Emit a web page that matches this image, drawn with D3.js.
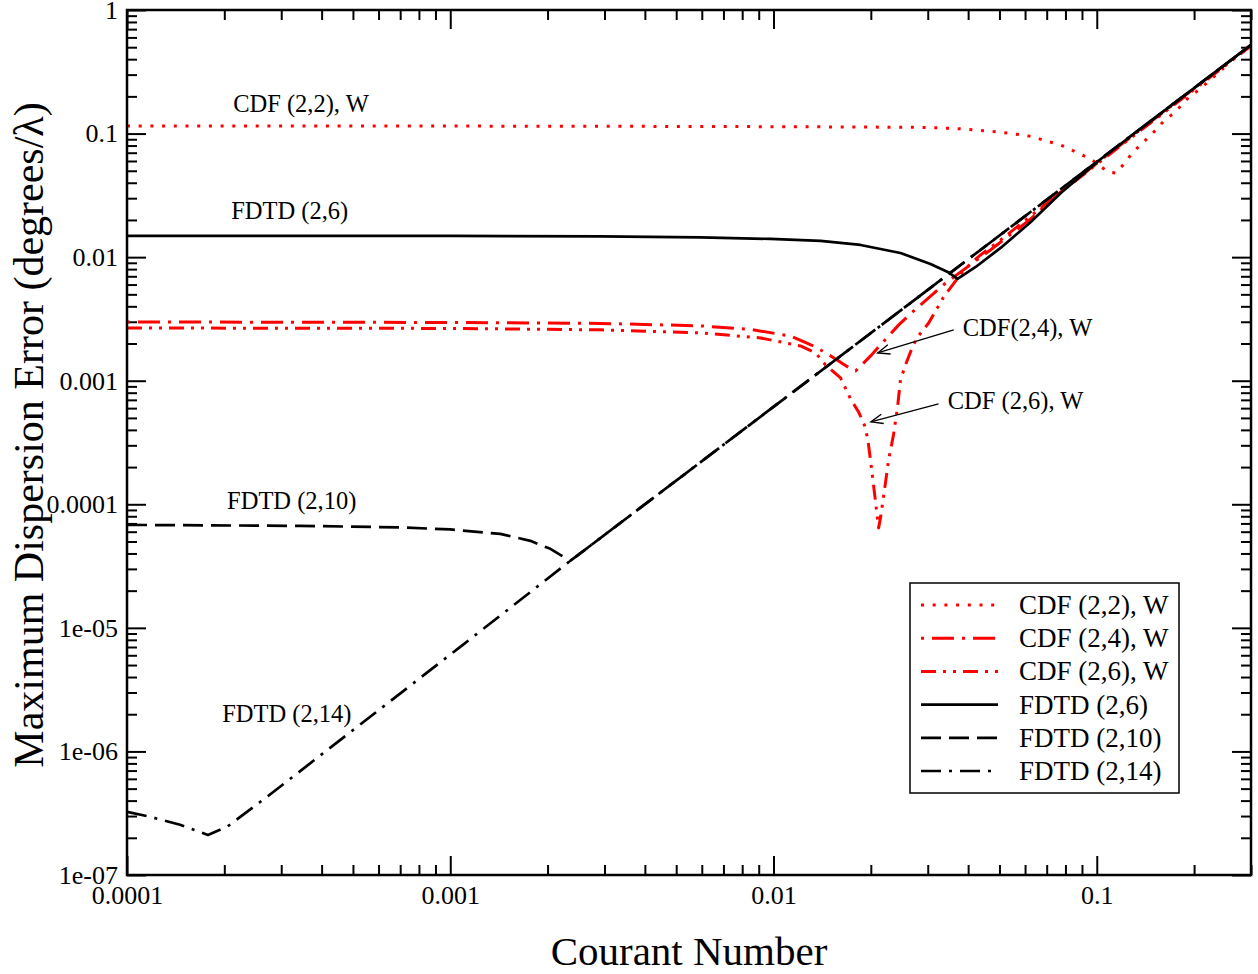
<!DOCTYPE html>
<html>
<head>
<meta charset="utf-8">
<script src="https://cdn.jsdelivr.net/npm/d3@7"></script>
<style>
  body { margin: 0; background: #fff; }
  svg { display: block; }
  text { font-family: "Liberation Serif", "Times New Roman", serif; fill: #000; }
</style>
</head>
<body>
<svg id="chart" width="1258" height="974"></svg>
<script>
// ---- Axis ticks ----
const xTickValues = [1e-4, 1e-3, 1e-2, 1e-1];
const xTickLabels = ["0.0001", "0.001", "0.01", "0.1"];
const yTickValues = [1e-7, 1e-6, 1e-5, 1e-4, 1e-3, 1e-2, 1e-1, 1];
const yTickLabels = ["1e-07", "1e-06", "1e-05", "0.0001", "0.001", "0.01", "0.1", "1"];

// ---- Series: Courant number (C) vs maximum dispersion error (E) ----
const cdf22C = [1e-4, 1e-3, 5.94e-3, 1.731e-2, 3.02e-2, 3.88e-2, 4.97e-2, 5.90e-2, 6.38e-2, 6.95e-2,
  7.57e-2, 8.13e-2, 8.73e-2, 9.45e-2, 0.1007, 0.1082, 0.1145, 0.1213, 0.1274, 0.1349,
  0.1438, 0.1523, 0.1612, 0.1719, 0.1820, 0.1927, 0.2069, 0.2207, 0.2335, 0.2472];
const cdf22E = [0.1152, 0.1150, 0.1142, 0.1131, 0.1121, 0.1090, 0.1030, 0.0974, 0.0939, 0.0871,
  0.0824, 0.0765, 0.0697, 0.0635, 0.0568, 0.0489, 0.0480, 0.0568, 0.0671, 0.0786,
  0.0921, 0.1069, 0.1264, 0.1441, 0.1672, 0.1977, 0.2253, 0.2615, 0.2979, 0.3394];

const cdf24C = [1e-4, 1e-3, 2.91e-3, 5.94e-3, 8.49e-3, 1.129e-2, 1.349e-2, 1.556e-2, 1.731e-2, 1.795e-2,
  1.997e-2, 2.10e-2, 2.44e-2, 2.65e-2, 3.41e-2, 4.69e-2, 6.25e-2, 7.74e-2, 0.1029, 0.2997];
const cdf24E = [2.99e-3, 2.96e-3, 2.91e-3, 2.78e-3, 2.60e-3, 2.30e-3, 1.877e-3, 1.50e-3, 1.246e-3, 1.201e-3,
  1.587e-3, 1.842e-3, 2.83e-3, 3.47e-3, 6.18e-3, 0.01144, 0.02038, 0.0337, 0.0611, 0.521];

const cdf26C = [1e-4, 1e-3, 2.91e-3, 5.94e-3, 9.12e-3, 1.212e-2, 1.349e-2, 1.449e-2, 1.534e-2, 1.612e-2,
  1.731e-2, 1.833e-2, 1.927e-2, 1.968e-2, 2.025e-2, 2.07e-2, 2.114e-2, 2.145e-2, 2.222e-2, 2.27e-2,
  2.35e-2, 2.42e-2, 2.47e-2, 2.56e-2, 2.69e-2, 2.79e-2, 3.02e-2, 3.36e-2, 3.88e-2, 4.37e-2,
  5.04e-2, 6.71e-2, 0.1029, 0.2997];
const cdf26E = [2.67e-3, 2.65e-3, 2.58e-3, 2.44e-3, 2.22e-3, 1.912e-3, 1.679e-3, 1.342e-3, 1.178e-3, 1.054e-3,
  7.13e-4, 5.59e-4, 4.15e-4, 3.02e-4, 1.666e-4, 1.026e-4, 6.44e-5, 7.91e-5, 1.518e-4, 2.29e-4,
  3.64e-4, 6.14e-4, 1.015e-3, 1.342e-3, 1.877e-3, 2.26e-3, 2.93e-3, 4.76e-3, 7.88e-3, 0.01042,
  0.01377, 0.0250, 0.0600, 0.511];

const fdtd6C = [1e-4, 1e-3, 2.91e-3, 5.94e-3, 9.79e-3, 1.398e-2, 1.859e-2, 2.47e-2, 3.06e-2, 3.46e-2,
  3.71e-2, 4.22e-2, 5.04e-2, 6.25e-2, 7.74e-2, 0.1029, 0.2997];
const fdtd6E = [0.01484, 0.01484, 0.0147, 0.01443, 0.01404, 0.01352, 0.01255, 0.01081, 8.81e-3, 7.59e-3,
  6.66e-3, 8.33e-3, 0.01187, 0.01927, 0.0331, 0.0623, 0.521];

const fdtd10C = [1e-4, 3.43e-4, 7.0e-4, 1e-3, 1.428e-3, 1.769e-3, 2.04e-3, 2.35e-3, 0.2997];
const fdtd10E = [6.81e-5, 6.69e-5, 6.50e-5, 6.26e-5, 5.76e-5, 5.06e-5, 4.36e-5, 3.48e-5, 0.521];

const fdtd14C = [1e-4, 1.178e-4, 1.459e-4, 1.78e-4, 2.04e-4, 2.71e-4, 1.074e-3, 2.35e-3, 0.2997];
const fdtd14E = [3.245e-7, 2.96e-7, 2.55e-7, 2.11e-7, 2.455e-7, 4.29e-7, 7.02e-6, 3.48e-5, 0.521];

// ---- In-plot labels and arrows (data coordinates) ----
const curveLabels = [
  { text: "CDF (2,2), W", C: 2.13e-4, E: 0.150 },
  { text: "FDTD (2,6)",   C: 2.10e-4, E: 0.0204 },
  { text: "FDTD (2,10)",  C: 2.04e-4, E: 9.18e-5 },
  { text: "FDTD (2,14)",  C: 1.97e-4, E: 1.74e-6 },
  { text: "CDF(2,4), W",  C: 0.0385,  E: 2.30e-3 },
  { text: "CDF (2,6), W", C: 0.0346,  E: 5.91e-4 }
];
const arrows = [
  { fromC: 0.0361, fromE: 2.58e-3, toC: 0.0210, toE: 1.68e-3 },
  { fromC: 0.0324, fromE: 6.49e-4, toC: 0.0200, toE: 4.64e-4 }
];

const RED = "#ff0000", BLACK = "#000000";
const series = [
  { name: "CDF (2,2), W", C: cdf22C, E: cdf22E, color: RED,   dash: "3 8.7",             width: 3 },
  { name: "CDF (2,4), W", C: cdf24C, E: cdf24E, color: RED,   dash: "3 8 22 8",          width: 3 },
  { name: "CDF (2,6), W", C: cdf26C, E: cdf26E, color: RED,   dash: "15 7 3 7 3 7",      width: 3 },
  { name: "FDTD (2,6)",   C: fdtd6C, E: fdtd6E, color: BLACK, dash: null,                width: 2.7 },
  { name: "FDTD (2,10)",  C: fdtd10C, E: fdtd10E, color: BLACK, dash: "20 8",            width: 2.7 },
  { name: "FDTD (2,14)",  C: fdtd14C, E: fdtd14E, color: BLACK, dash: "20 8 3 8",        width: 2.7 }
];

// ---- Layout ----
const svg = d3.select("#chart");
const m = { left: 127, right: 1251, top: 10, bottom: 875 };

const x = d3.scaleLog().domain([1e-4, 0.3]).range([m.left, m.right]);
const y = d3.scaleLog().domain([1e-7, 1]).range([m.bottom, m.top]);

const isMajor = v => Math.abs(Math.log10(v) - Math.round(Math.log10(v))) < 1e-9;
const xMinor = x.ticks().filter(v => !isMajor(v));
const yMinor = y.ticks().filter(v => !isMajor(v));

const MAJOR = 19, MINOR = 10;

function styleAxis(g) {
  g.select(".domain").remove();
  g.selectAll(".tick line").attr("stroke", "#000").attr("stroke-width", 2);
  g.selectAll(".tick text")
    .attr("font-family", '"Liberation Serif", "Times New Roman", serif')
    .attr("font-size", 26)
    .attr("fill", "#000");
}

// bottom
svg.append("g").attr("transform", `translate(0,${m.bottom})`)
  .call(d3.axisBottom(x).tickValues(xTickValues).tickFormat((d, i) => xTickLabels[i])
    .tickSize(-MAJOR).tickPadding(11))
  .call(styleAxis);
svg.append("g").attr("transform", `translate(0,${m.bottom})`)
  .call(d3.axisBottom(x).tickValues(xMinor).tickFormat("").tickSize(-MINOR))
  .call(styleAxis);
// top (mirror)
svg.append("g").attr("transform", `translate(0,${m.top})`)
  .call(d3.axisTop(x).tickValues(xTickValues).tickFormat("").tickSize(-MAJOR))
  .call(styleAxis);
svg.append("g").attr("transform", `translate(0,${m.top})`)
  .call(d3.axisTop(x).tickValues(xMinor).tickFormat("").tickSize(-MINOR))
  .call(styleAxis);
// left
svg.append("g").attr("transform", `translate(${m.left},0)`)
  .call(d3.axisLeft(y).tickValues(yTickValues).tickFormat((d, i) => yTickLabels[i])
    .tickSize(-MAJOR).tickPadding(9))
  .call(styleAxis);
svg.append("g").attr("transform", `translate(${m.left},0)`)
  .call(d3.axisLeft(y).tickValues(yMinor).tickFormat("").tickSize(-MINOR))
  .call(styleAxis);
// right (mirror)
svg.append("g").attr("transform", `translate(${m.right},0)`)
  .call(d3.axisRight(y).tickValues(yTickValues).tickFormat("").tickSize(-MAJOR))
  .call(styleAxis);
svg.append("g").attr("transform", `translate(${m.right},0)`)
  .call(d3.axisRight(y).tickValues(yMinor).tickFormat("").tickSize(-MINOR))
  .call(styleAxis);

// ---- Curves ----
svg.append("clipPath").attr("id", "plot-clip")
  .append("rect").attr("x", m.left).attr("y", m.top)
  .attr("width", m.right - m.left).attr("height", m.bottom - m.top);

const line = d3.line().x(d => x(d[0])).y(d => y(d[1]));
const curves = svg.append("g").attr("clip-path", "url(#plot-clip)");
series.forEach(s => {
  const pts = s.C.map((c, i) => [c, s.E[i]]);
  curves.append("path")
    .attr("d", line(pts))
    .attr("fill", "none")
    .attr("stroke", s.color)
    .attr("stroke-width", s.width)
    .attr("stroke-dasharray", s.dash)
    .attr("stroke-linejoin", "round");
});

// ---- Frame ----
svg.append("rect")
  .attr("x", m.left).attr("y", m.top)
  .attr("width", m.right - m.left).attr("height", m.bottom - m.top)
  .attr("fill", "none").attr("stroke", "#000").attr("stroke-width", 2.5);

// ---- Curve labels ----
svg.append("g").selectAll("text").data(curveLabels).join("text")
  .attr("x", d => x(d.C)).attr("y", d => y(d.E))
  .attr("font-size", 24.5)
  .text(d => d.text);

// ---- Arrows with open heads ----
const arrowG = svg.append("g").attr("stroke", "#000").attr("fill", "none").attr("stroke-width", 1.3);
arrows.forEach(a => {
  const x1 = x(a.fromC), y1 = y(a.fromE), x2 = x(a.toC), y2 = y(a.toE);
  arrowG.append("line").attr("x1", x1).attr("y1", y1).attr("x2", x2).attr("y2", y2);
  const ang = Math.atan2(y1 - y2, x1 - x2), L = 13, spread = 0.38;
  const p1 = [x2 + L * Math.cos(ang + spread), y2 + L * Math.sin(ang + spread)];
  const p2 = [x2 + L * Math.cos(ang - spread), y2 + L * Math.sin(ang - spread)];
  arrowG.append("path").attr("d", `M${p1[0]},${p1[1]}L${x2},${y2}L${p2[0]},${p2[1]}`);
});

// ---- Legend ----
const lg = svg.append("g");
const lgBox = { x: 910, y: 583, w: 269, h: 210 };
lg.append("rect").attr("x", lgBox.x).attr("y", lgBox.y).attr("width", lgBox.w).attr("height", lgBox.h)
  .attr("fill", "#fff").attr("stroke", "#000").attr("stroke-width", 1.5);
series.forEach((s, i) => {
  const ry = 605 + i * 33.2;
  lg.append("line").attr("x1", 921).attr("x2", 998).attr("y1", ry).attr("y2", ry)
    .attr("stroke", s.color).attr("stroke-width", s.width).attr("stroke-dasharray", s.dash);
  lg.append("text").attr("x", 1019).attr("y", ry + 9).attr("font-size", 27).text(s.name);
});

// ---- Axis titles ----
svg.append("text")
  .attr("x", 689).attr("y", 965).attr("text-anchor", "middle")
  .attr("font-size", 41)
  .text("Courant Number");
svg.append("text")
  .attr("transform", "translate(43,435) rotate(-90)")
  .attr("text-anchor", "middle")
  .attr("font-size", 42)
  .text("Maximum Dispersion Error (degrees/λ)");
</script>
</body>
</html>
